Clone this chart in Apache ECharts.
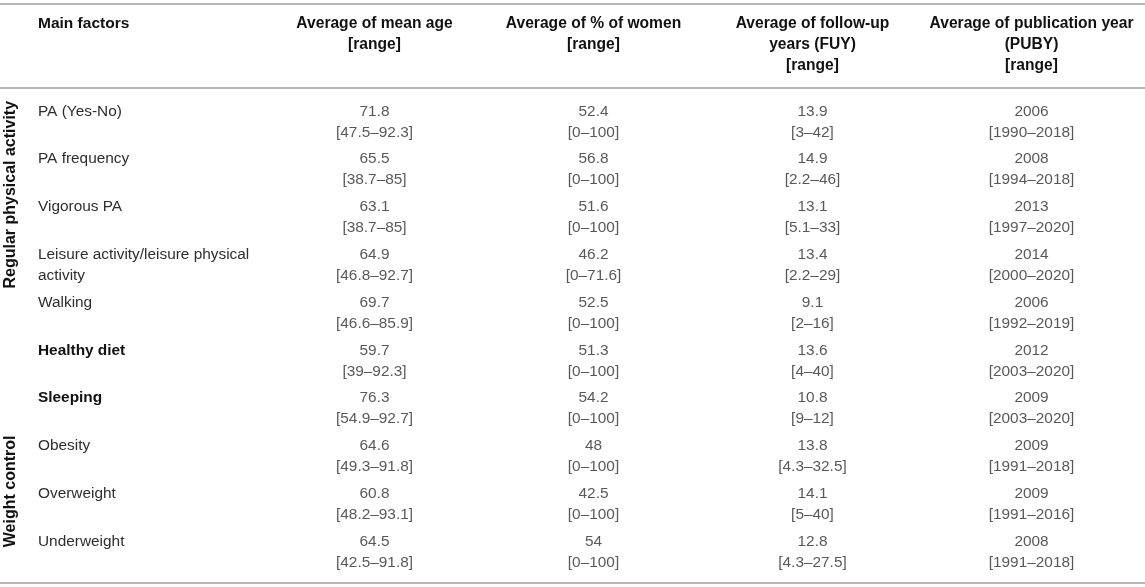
<!DOCTYPE html>
<html>
<head>
<meta charset="utf-8">
<script src="https://cdn.jsdelivr.net/npm/echarts@6/dist/echarts.min.js"></script>
<style>
  html, body { margin: 0; padding: 0; background: #fff; }
  #chart { width: 1145px; height: 587px; }
</style>
</head>
<body>
<div id="chart"></div>
<script>
// table rows (main factors), top to bottom
const factors = [
  "PA (Yes-No)", "PA frequency", "Vigorous PA",
  "Leisure activity/leisure physical activity", "Walking",
  "Healthy diet", "Sleeping", "Obesity", "Overweight", "Underweight"
];
const boldFactors = ["Healthy diet", "Sleeping"];

// column headers
const columns = [
  "Average of mean age\n[range]",
  "Average of % of women\n[range]",
  "Average of follow-up\nyears (FUY)\n[range]",
  "Average of publication year\n(PUBY)\n[range]"
];

const meanAge = [71.8, 65.5, 63.1, 64.9, 69.7, 59.7, 76.3, 64.6, 60.8, 64.5];
const meanAgeRange = [[47.5, 92.3], [38.7, 85], [38.7, 85], [46.8, 92.7], [46.6, 85.9],
  [39, 92.3], [54.9, 92.7], [49.3, 91.8], [48.2, 93.1], [42.5, 91.8]];

const women = [52.4, 56.8, 51.6, 46.2, 52.5, 51.3, 54.2, 48, 42.5, 54];
const womenRange = [[0, 100], [0, 100], [0, 100], [0, 71.6], [0, 100],
  [0, 100], [0, 100], [0, 100], [0, 100], [0, 100]];

const followUp = [13.9, 14.9, 13.1, 13.4, 9.1, 13.6, 10.8, 13.8, 14.1, 12.8];
const followUpRange = [[3, 42], [2.2, 46], [5.1, 33], [2.2, 29], [2, 16],
  [4, 40], [9, 12], [4.3, 32.5], [5, 40], [4.3, 27.5]];

const pubYear = [2006, 2008, 2013, 2014, 2006, 2012, 2009, 2009, 2009, 2008];
const pubYearRange = [[1990, 2018], [1994, 2018], [1997, 2020], [2000, 2020], [1992, 2019],
  [2003, 2020], [2003, 2020], [1991, 2018], [1991, 2016], [1991, 2018]];

// row groups shown as rotated labels on the left
const groupNames = ["Regular physical activity", "Weight control"];
const groupFirstRow = ["PA (Yes-No)", "Obesity"];

const FONT = '"Liberation Sans", Arial, sans-serif';
const TEXT = "#2e2e2e";
const HEAD = "#111";
const RULE = { color: "#b7b7b7", width: 2 };

const values = [meanAge, women, followUp, pubYear];
const ranges = [meanAgeRange, womenRange, followUpRange, pubYearRange];

// break long names into lines of at most ~34 chars
const wrap = (s) => {
  if (s.length <= 34) return [s];
  const cut = s.lastIndexOf(" ", 34);
  return [s.slice(0, cut), s.slice(cut + 1)];
};

const chart = echarts.init(document.getElementById("chart"));

// helper for the plain rule-line axes
const ruleAxis = (grid, pos) => ({
  gridIndex: grid, type: "value", position: pos, min: 0, max: 1,
  axisLine: { show: true, onZero: false, lineStyle: RULE },
  axisTick: { show: false }, axisLabel: { show: false }, splitLine: { show: false }
});

const option = {
  backgroundColor: "#fff",
  animation: false,
  textStyle: { fontFamily: FONT },
  title: {
    text: "Main factors",
    left: 38, top: 13, padding: 0,
    textStyle: { fontSize: 15.5, fontWeight: "bold", color: HEAD, lineHeight: 21, fontFamily: FONT }
  },
  grid: [
    { left: 265, right: 4, top: 98, bottom: 11 },  // table body
    { left: 0, right: 0, top: 88, bottom: 4 },     // header rule + bottom rule
    { left: 0, right: 0, top: 4, height: 1 }       // top rule
  ],
  xAxis: [
    {
      gridIndex: 0, type: "category", data: columns, position: "top",
      axisLine: { show: false }, axisTick: { show: false }, splitLine: { show: false },
      axisLabel: {
        interval: 0, verticalAlign: "top", margin: 85,
        fontSize: 15.6, fontWeight: "bold", lineHeight: 21, color: HEAD, fontFamily: FONT
      }
    },
    ruleAxis(1, "top"),
    ruleAxis(1, "bottom"),
    ruleAxis(2, "top")
  ],
  yAxis: [
    {
      gridIndex: 0, type: "category", data: factors, inverse: true,
      axisLine: { show: false }, axisTick: { show: false }, splitLine: { show: false },
      axisLabel: {
        interval: 0, align: "left", margin: 227,
        formatter: (name) => {
          const key = boldFactors.includes(name) ? "b" : "n";
          const lines = wrap(name);
          if (lines.length < 2) lines.push(" ");
          return lines.map((l) => `{${key}|${l}}`).join("\n");
        },
        rich: {
          n: { fontSize: 15.4, lineHeight: 21, color: TEXT, fontFamily: FONT },
          b: { fontSize: 15.4, lineHeight: 21, color: HEAD, fontWeight: "bold", fontFamily: FONT }
        }
      }
    },
    { gridIndex: 1, type: "value", show: false, min: 0, max: 1 },
    { gridIndex: 2, type: "value", show: false, min: 0, max: 1 }
  ],
  series: columns.map((c, ci) => ({
    type: "scatter",
    xAxisIndex: 0, yAxisIndex: 0,
    silent: true,
    symbolSize: 1,
    itemStyle: { color: "rgba(0,0,0,0)" },
    data: factors.map((f, ri) => [ci, ri, values[ci][ri], ranges[ci][ri][0], ranges[ci][ri][1]]),
    label: {
      show: true, position: "inside",
      fontSize: 15.4, lineHeight: 21, color: TEXT, fontFamily: FONT,
      formatter: (p) => `${p.value[2]}\n[${p.value[3]}–${p.value[4]}]`
    }
  }))
};

chart.setOption(option);

// rotated group labels, anchored to the first row of each group
const groupGraphics = groupNames.map((name, gi) => {
  const row = factors.indexOf(groupFirstRow[gi]);
  const y = chart.convertToPixel({ yAxisIndex: 0 }, row) - 21;
  return {
    type: "text", x: 11, y: y, rotation: Math.PI / 2, silent: true,
    style: {
      text: name, align: "right", verticalAlign: "middle",
      fontSize: 16, fontWeight: "bold", fontFamily: FONT, fill: HEAD
    }
  };
});
chart.setOption({ graphic: groupGraphics });
</script>
</body>
</html>
